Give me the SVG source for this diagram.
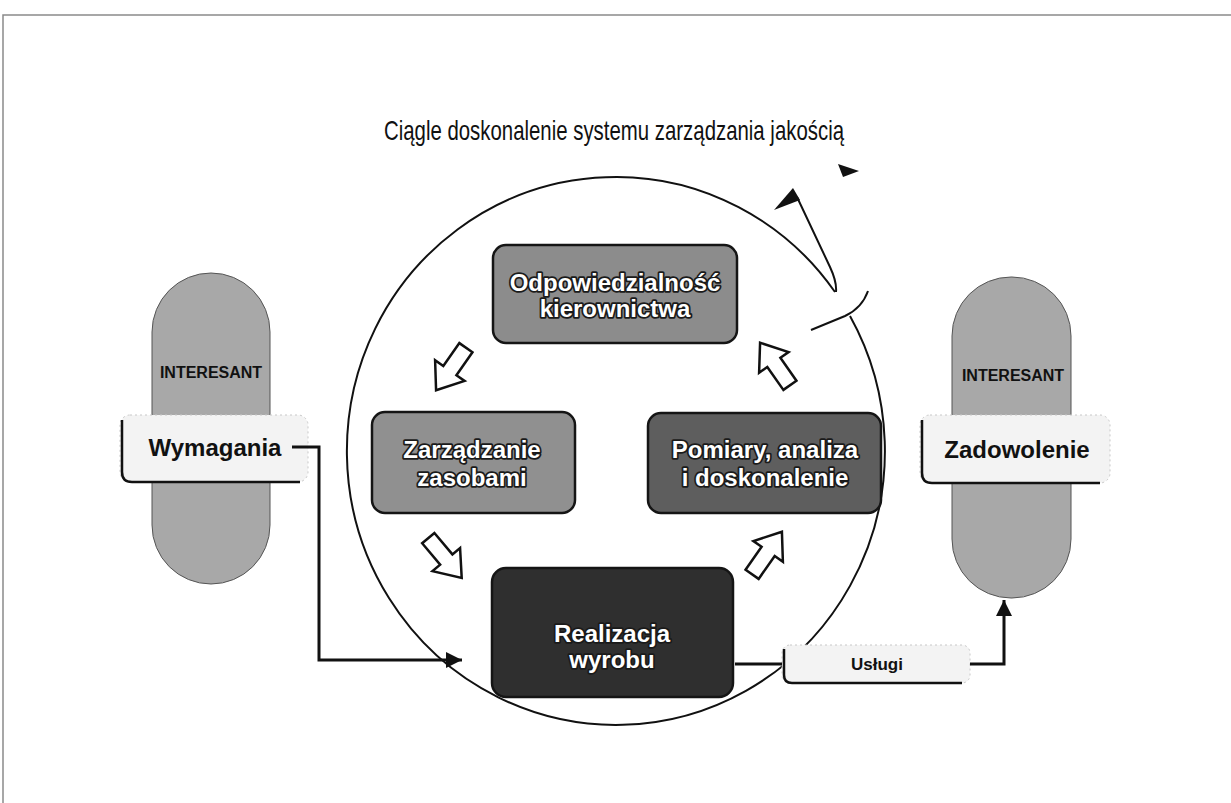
<svg xmlns="http://www.w3.org/2000/svg" width="1231" height="803" viewBox="0 0 1231 803">
<style>
text{font-family:"Liberation Sans",Arial,sans-serif}
.box{stroke:#151515;stroke-width:2.5}
.bt{font-size:24px;font-weight:bold;fill:#fff;stroke:#1a1a1a;stroke-width:3.5;paint-order:stroke;text-anchor:middle;stroke-linejoin:round}
.pill{fill:#a8a8a8;stroke:#555;stroke-width:1}
.lbl{fill:#f3f3f3;stroke:#c8c8c8;stroke-width:1;stroke-dasharray:2 3}
.lblb{fill:none;stroke:#111;stroke-width:2.5}
.lt{font-size:24px;font-weight:bold;fill:#111;text-anchor:middle}
.it{font-size:16px;font-weight:bold;fill:#111;text-anchor:middle}
.ln{fill:none;stroke:#111;stroke-width:3}
.thin{fill:none;stroke:#111;stroke-width:2}
.ba{fill:#fff;stroke:#111;stroke-width:2.5;stroke-linejoin:miter}
</style>
<defs>
<marker id="ah2" viewBox="0 0 10 10" refX="10" refY="5" markerWidth="20" markerHeight="16" markerUnits="userSpaceOnUse" orient="auto">
<path d="M0,0 L10,5 L0,10 z" fill="#111"/>
</marker>
<polygon id="barrow" points="-26,-8 2,-8 2,-18 26,0 2,18 2,8 -26,8"/>
</defs>
<rect width="1231" height="803" fill="#fff"/>
<path d="M3,803 V15 H1231" fill="none" stroke="#8a8a8a" stroke-width="1.5"/>
<text x="614" y="140" font-size="28" text-anchor="middle" fill="#111" textLength="460" lengthAdjust="spacingAndGlyphs">Ciągle doskonalenie systemu zarządzania jakością</text>

<g id="cycle">
<path class="thin" d="M850,316 A269,274 0 1 1 835,292"/>
<path class="thin" d="M811,330 L845,316 Q862,308 868,291"/>
<path class="thin" d="M797,197 L830,267 Q837,282 836,292"/>
<polygon points="774,210 793,188 800,200" fill="#111"/>
<polygon points="838,164 859,171 843,177" fill="#111"/>
</g>

<g id="interesant-left">
<rect class="pill" x="152" y="273" width="118" height="311" rx="59" ry="59"/>
<text class="it" x="211" y="378">INTERESANT</text>
</g>
<g id="wymagania">
<rect class="lbl" x="120" y="415" width="188" height="67" rx="10"/>
<path class="lblb" d="M122,420 V472 Q122,482 132,482 H300"/>
<text class="lt" x="215" y="456">Wymagania</text>
</g>

<g id="interesant-right">
<rect class="pill" x="952" y="277" width="119" height="321" rx="59" ry="59"/>
<text class="it" x="1013" y="381">INTERESANT</text>
</g>
<g id="zadowolenie">
<rect class="lbl" x="920" y="415" width="190" height="68" rx="10"/>
<path class="lblb" d="M922,420 V473 Q922,483 932,483 H1100"/>
<text class="lt" x="1017" y="458">Zadowolenie</text>
</g>

<g id="odpowiedzialnosc">
<rect class="box" x="493" y="245" width="244" height="98" rx="13" fill="#8c8c8c"/>
<text class="bt" x="615" y="291">Odpowiedzialność</text>
<text class="bt" x="615" y="317">kierownictwa</text>
</g>
<g id="zarzadzanie">
<rect class="box" x="372" y="412" width="203" height="101" rx="13" fill="#909090"/>
<text class="bt" x="472" y="458">Zarządzanie</text>
<text class="bt" x="472" y="486">zasobami</text>
</g>
<g id="pomiary">
<rect class="box" x="648" y="413" width="233" height="100" rx="13" fill="#5e5e5e"/>
<text class="bt" x="765" y="458">Pomiary, analiza</text>
<text class="bt" x="765" y="486">i doskonalenie</text>
</g>
<g id="realizacja">
<rect class="box" x="492" y="568" width="241" height="129" rx="14" fill="#2f2f2f"/>
<text class="bt" x="612" y="642">Realizacja</text>
<text class="bt" x="612" y="668">wyrobu</text>
</g>
<g id="uslugi">
<rect class="lbl" x="782" y="645" width="188" height="38" rx="8"/>
<path class="lblb" d="M784,649 V675 Q784,683 792,683 H962"/>
<text x="877" y="670" font-size="17" font-weight="bold" fill="#111" text-anchor="middle">Usługi</text>
</g>

<g id="connectors">
<path class="ln" d="M292,447 H319 V660 H462" marker-end="url(#ah2)"/>
<path class="ln" d="M735,664 H782"/>
<path class="ln" d="M970,664 H1004 V600" marker-end="url(#ah2)"/>
<use href="#barrow" class="ba" transform="translate(451,369) rotate(125)"/>
<use href="#barrow" class="ba" transform="translate(445,558) rotate(50)"/>
<use href="#barrow" class="ba" transform="translate(767,553) rotate(-55)"/>
<use href="#barrow" class="ba" transform="translate(775,364) rotate(-125)"/>
</g>
</svg>
